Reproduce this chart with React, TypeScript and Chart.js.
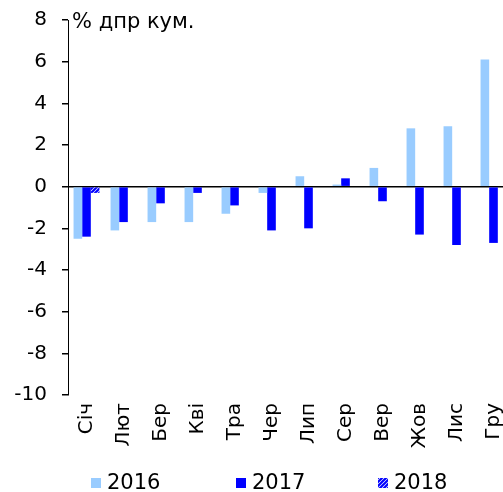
import React, { useEffect, useRef } from "react";
import { Chart, registerables } from "chart.js";

Chart.register(...registerables);

const categories = ["Січ", "Лют", "Бер", "Кві", "Тра", "Чер", "Лип", "Сер", "Вер", "Жов", "Лис", "Гру"];
const values2016 = [-2.5, -2.1, -1.7, -1.7, -1.3, -0.3, 0.5, 0.1, 0.9, 2.8, 2.9, 6.1];
const values2017 = [-2.4, -1.7, -0.8, -0.3, -0.9, -2.1, -2.0, 0.4, -0.7, -2.3, -2.8, -2.7];
const values2018 = [-0.3, null, null, null, null, null, null, null, null, null, null, null];
const seriesLabels = ["2016", "2017", "2018"];
const yTitle = "% дпр кум.";

const FONT = "'DejaVu Sans', Verdana, sans-serif";

function makePattern(): CanvasPattern | string {
  const c = document.createElement("canvas");
  c.width = 4;
  c.height = 4;
  const g = c.getContext("2d");
  if (!g) return "#0000FF";
  g.fillStyle = "#ffffff";
  g.fillRect(0, 0, 4, 4);
  g.strokeStyle = "#0000FF";
  g.lineWidth = 2.2;
  g.beginPath();
  g.moveTo(0, 4);
  g.lineTo(4, 0);
  g.moveTo(-1, 1);
  g.lineTo(1, -1);
  g.moveTo(3, 5);
  g.lineTo(5, 3);
  g.stroke();
  const p = g.createPattern(c, "repeat");
  return p || "#0000FF";
}

export default function App() {
  const ref = useRef<HTMLCanvasElement | null>(null);
  useEffect(() => {
    if (!ref.current) return;
    const pattern = makePattern();
    const colors: any[] = ["#99CCFF", "#0000FF", pattern];

    const extras = {
      id: "extras",
      afterDraw(chart: any) {
        const ctx = chart.ctx;
        const area = chart.chartArea;
        ctx.save();
        ctx.fillStyle = "#000";
        ctx.font = `21px ${FONT}`;
        ctx.textAlign = "left";
        ctx.textBaseline = "middle";
        ctx.fillText(yTitle, area.left + 4, area.top + 3);
        // legend
        const starts = [91, 236, 378];
        const yMid = 483;
        chart.data.datasets.forEach((ds: any, i: number) => {
          const x = starts[i];
          ctx.fillStyle = colors[i];
          ctx.fillRect(x, yMid - 5, 10, 10);
          ctx.fillStyle = "#000";
          ctx.font = `21px ${FONT}`;
          ctx.fillText(ds.label, x + 16, yMid + 1);
        });
        ctx.restore();
      },
    };

    const chart = new Chart(ref.current, {
      type: "bar",
      data: {
        labels: categories,
        datasets: [
          { label: seriesLabels[0], data: values2016, backgroundColor: colors[0] },
          { label: seriesLabels[1], data: values2017, backgroundColor: colors[1] },
          { label: seriesLabels[2], data: values2018 as any, backgroundColor: colors[2] },
        ],
      },
      options: {
        responsive: false,
        animation: false,
        devicePixelRatio: 1,
        layout: { padding: { top: 20, right: 8, bottom: 0, left: 0 } },
        datasets: { bar: { barPercentage: 1, categoryPercentage: 0.7 } },
        plugins: { legend: { display: false }, tooltip: { enabled: false } },
        scales: {
          x: {
            grid: { display: false, drawTicks: false },
            border: { display: false },
            ticks: {
              minRotation: 90,
              maxRotation: 90,
              autoSkip: false,
              padding: 8,
              color: "#000",
              font: { family: FONT, size: 20 },
            },
            afterFit(scale: any) {
              scale.height = 97;
              scale.paddingLeft = 0;
              scale.paddingRight = 0;
            },
          },
          y: {
            min: -10,
            max: 8,
            ticks: {
              stepSize: 2,
              padding: 15,
              color: "#000",
              font: { family: FONT, size: 20 },
            },
            grid: {
              drawTicks: true,
              tickLength: 6,
              tickColor: "#000",
              color: (c: any) => (c.tick && c.tick.value === 0 ? "#000" : "rgba(0,0,0,0)"),
              lineWidth: 1.5,
            },
            border: { display: true, color: "#000", width: 1 },
            afterFit(scale: any) {
              scale.width = 68;
              scale.paddingTop = 0;
              scale.paddingBottom = 0;
            },
          },
        },
      },
      plugins: [extras],
    });
    return () => chart.destroy();
  }, []);

  return (
    <div style={{ position: "absolute", left: 0, top: 0, width: 503, height: 492, overflow: "hidden", background: "#fff" }}>
      <canvas ref={ref} width={520} height={492} style={{ display: "block" }} />
    </div>
  );
}
